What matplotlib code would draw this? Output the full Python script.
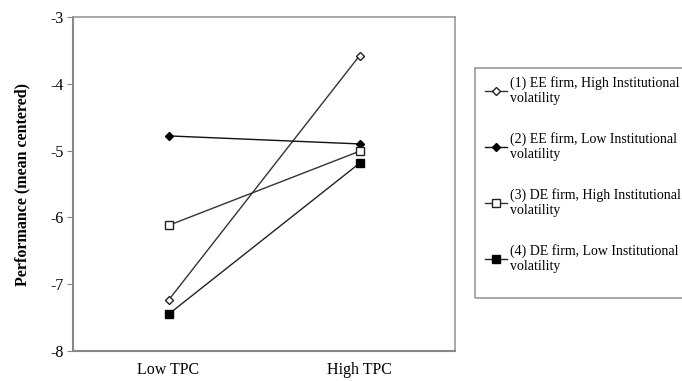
import matplotlib.pyplot as plt
from matplotlib.patches import Rectangle

categories = ['Low TPC', 'High TPC']
labels = ['(1) EE firm, High Institutional\nvolatility',
          '(2) EE firm, Low Institutional\nvolatility',
          '(3) DE firm, High Institutional\nvolatility',
          '(4) DE firm, Low Institutional\nvolatility']
ee_high = [-7.24, -3.58]
ee_low = [-4.78, -4.90]
de_high = [-6.12, -5.01]
de_low = [-7.45, -5.19]

plt.rcParams['font.family'] = ['Liberation Serif', 'DejaVu Serif']

fig = plt.figure(figsize=(6.82, 3.81), dpi=100)
ax = fig.add_axes([73/682, 1-351/381, (455-73)/682, (351-17)/381])

x = [0, 1]
ax.plot(x, ee_high, color='#333333', lw=1, marker='D', ms=4, mfc='white', mec='#222222', label=labels[0])
ax.plot(x, ee_low, color='#111111', lw=1, marker='D', ms=4, mfc='black', mec='black', label=labels[1])
ax.plot(x, de_high, color='#333333', lw=1, marker='s', ms=5.5, mfc='white', mec='#222222', label=labels[2])
ax.plot(x, de_low, color='#222222', lw=1, marker='s', ms=5.5, mfc='black', mec='black', label=labels[3])

ax.set_xlim(-0.5, 1.5)
ax.set_ylim(-8, -3)
ax.set_yticks([-3, -4, -5, -6, -7, -8])
ax.set_yticklabels(['-3', '-4', '-5', '-6', '-7', '-8'], fontsize=11.5)
ax.set_xticks(x)
ax.set_xticklabels(categories, fontsize=11.5)
ax.tick_params(axis='x', length=0, pad=8)
ax.tick_params(axis='y', length=4, color='#888888', pad=3)
ax.set_ylabel('Performance (mean centered)', fontsize=11.5, fontweight='bold', labelpad=14)
for side in ['left', 'bottom']:
    ax.spines[side].set_color('#888888')
    ax.spines[side].set_linewidth(1.5)
for side in ['top', 'right']:
    ax.spines[side].set_color('#999999')
    ax.spines[side].set_linewidth(1.2)

# legend box runs past the right edge, as in the original
fig.patches.append(Rectangle((475/682, 1-298/381), 0.4, (298-68)/381,
                             transform=fig.transFigure, fill=False,
                             edgecolor='#999999', linewidth=1.2))
leg = fig.legend(loc='upper left', bbox_to_anchor=(485/682, 1-76/381),
                 fontsize=10, frameon=False, labelspacing=1.95,
                 handlelength=1.6, handletextpad=0.2, borderpad=0, borderaxespad=0)

fig.savefig('out.png', dpi=100)
